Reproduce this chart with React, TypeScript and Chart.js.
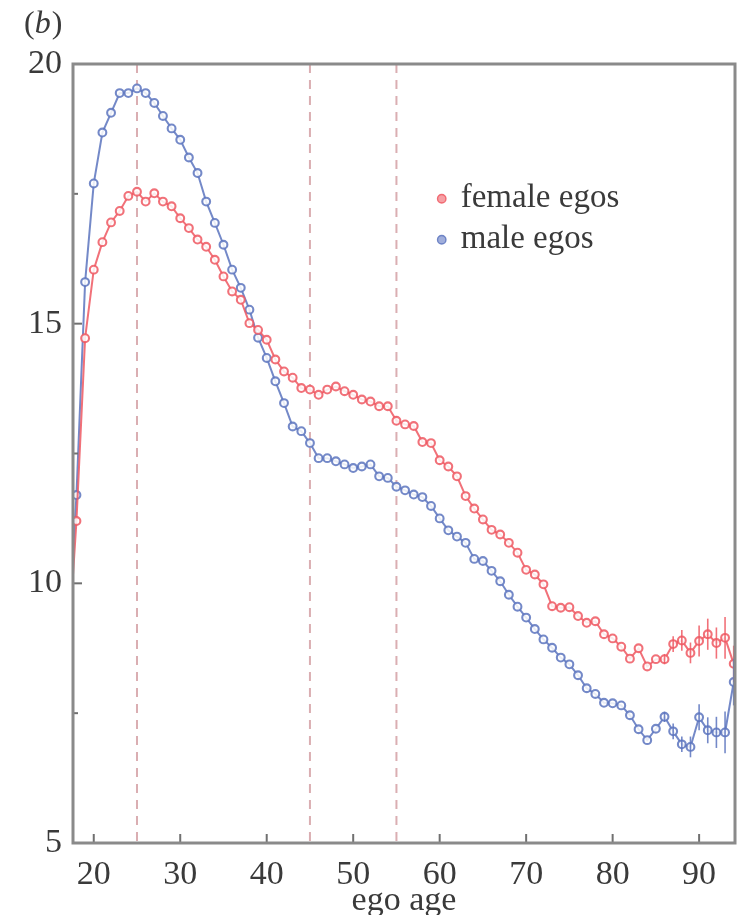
import React, { useEffect, useRef } from "react";
import { Chart, registerables } from "chart.js";

Chart.register(...registerables);

// ---------- data ----------
const AGES = [
  17, 18, 19, 20, 21, 22, 23, 24, 25, 26, 27, 28, 29, 30, 31, 32, 33, 34, 35, 36,
  37, 38, 39, 40, 41, 42, 43, 44, 45, 46, 47, 48, 49, 50, 51, 52, 53, 54, 55, 56,
  57, 58, 59, 60, 61, 62, 63, 64, 65, 66, 67, 68, 69, 70, 71, 72, 73, 74, 75, 76,
  77, 78, 79, 80, 81, 82, 83, 84, 85, 86, 87, 88, 89, 90, 91, 92, 93, 94,
];

const FEMALE = [
  8.6, 11.2, 14.72, 16.04, 16.57, 16.95, 17.17, 17.46, 17.54, 17.35, 17.51, 17.35, 17.26, 17.03, 16.84, 16.62, 16.48, 16.23, 15.91, 15.62,
  15.46, 15.01, 14.88, 14.69, 14.31, 14.08, 13.96, 13.76, 13.73, 13.63, 13.73, 13.79, 13.7, 13.63, 13.54, 13.5, 13.41, 13.41, 13.13, 13.06,
  13.03, 12.72, 12.7, 12.37, 12.25, 12.06, 11.68, 11.44, 11.23, 11.03, 10.94, 10.78, 10.59, 10.26, 10.17, 9.98, 9.56, 9.53, 9.54, 9.37,
  9.24, 9.27, 9.02, 8.94, 8.78, 8.55, 8.75, 8.4, 8.54, 8.54, 8.83, 8.9, 8.66, 8.89, 9.02, 8.85, 8.95, 8.45,
];

const MALE = [
  8.9, 11.7, 15.8, 17.7, 18.68, 19.06, 19.44, 19.44, 19.53, 19.44, 19.25, 19.0, 18.76, 18.54, 18.2, 17.9, 17.35, 16.94, 16.52, 16.04,
  15.69, 15.27, 14.73, 14.34, 13.89, 13.47, 13.02, 12.93, 12.7, 12.41, 12.41, 12.35, 12.29, 12.22, 12.25, 12.29, 12.06, 12.03, 11.86, 11.79,
  11.71, 11.66, 11.49, 11.25, 11.02, 10.9, 10.78, 10.47, 10.43, 10.24, 10.04, 9.78, 9.55, 9.34, 9.12, 8.92, 8.76, 8.57, 8.44, 8.23,
  7.98, 7.87, 7.7, 7.69, 7.65, 7.46, 7.19, 6.98, 7.2, 7.43, 7.15, 6.9, 6.85, 7.42, 7.17, 7.13, 7.13, 8.1,
];

// error bars (late ages only)
const ERR_AGES = [86, 87, 88, 89, 90, 91, 92, 93, 94];
const FEMALE_ERR = [0.1, 0.15, 0.2, 0.2, 0.3, 0.3, 0.3, 0.4, 0.35];
const MALE_ERR = [0.1, 0.15, 0.15, 0.2, 0.25, 0.25, 0.3, 0.4, 0.45];

const SERIES_LABELS = ["female egos", "male egos"];
const REF_AGES = [25, 45, 55];
const X_TICKS = [20, 30, 40, 50, 60, 70, 80, 90];
const Y_TICKS = [5, 10, 15, 20];
const Y_MINOR = [7.5, 12.5, 17.5];
const PANEL_LABEL = "b";
const X_TITLE = "ego age";

// ---------- style ----------
const FONT = "'Liberation Serif', 'DejaVu Serif', serif";
const RED = "rgba(238, 88, 98, 0.85)";
const BLUE = "rgba(92, 116, 190, 0.85)";
const RED_FILL = "rgba(245, 150, 155, 0.9)";
const BLUE_FILL = "rgba(150, 165, 215, 0.9)";
const FRAME = "#8a8a8a";
const TEXT = "#3a3a3a";

const toPoints = (vals: number[]) => AGES.map((a, i) => ({ x: a, y: vals[i] }));

const refLinesPlugin = {
  id: "refLines",
  beforeDatasetsDraw(chart: any) {
    const { ctx, chartArea, scales } = chart;
    ctx.save();
    ctx.strokeStyle = "rgba(212, 160, 165, 0.85)";
    ctx.lineWidth = 2;
    ctx.setLineDash([9, 7]);
    REF_AGES.forEach((a) => {
      const x = scales.x.getPixelForValue(a);
      ctx.beginPath();
      ctx.moveTo(x, chartArea.top);
      ctx.lineTo(x, chartArea.bottom);
      ctx.stroke();
    });
    ctx.restore();
  },
};

const errorBarPlugin = {
  id: "errorBars",
  afterDatasetsDraw(chart: any) {
    const { ctx, scales, chartArea } = chart;
    const sets = [
      { vals: FEMALE, errs: FEMALE_ERR, color: RED },
      { vals: MALE, errs: MALE_ERR, color: BLUE },
    ];
    ctx.save();
    ctx.beginPath();
    ctx.rect(chartArea.left, chartArea.top, chartArea.right - chartArea.left, chartArea.bottom - chartArea.top);
    ctx.clip();
    ctx.lineWidth = 1.6;
    sets.forEach((s) => {
      ctx.strokeStyle = s.color;
      ERR_AGES.forEach((a, i) => {
        const idx = AGES.indexOf(a);
        if (idx < 0) return;
        const v = s.vals[idx];
        const x = scales.x.getPixelForValue(a);
        const y1 = scales.y.getPixelForValue(v - s.errs[i]);
        const y2 = scales.y.getPixelForValue(v + s.errs[i]);
        ctx.beginPath();
        ctx.moveTo(x, y1);
        ctx.lineTo(x, y2);
        ctx.stroke();
      });
    });
    ctx.restore();
  },
};

const framePlugin = {
  id: "frame",
  afterDraw(chart: any) {
    const { ctx, chartArea, scales } = chart;
    const { left, right, top, bottom } = chartArea;
    ctx.save();
    // inner ticks
    ctx.strokeStyle = "#707070";
    ctx.lineWidth = 2;
    X_TICKS.forEach((t) => {
      const x = scales.x.getPixelForValue(t);
      ctx.beginPath();
      ctx.moveTo(x, bottom);
      ctx.lineTo(x, bottom - 9);
      ctx.stroke();
    });
    Y_TICKS.forEach((t) => {
      const y = scales.y.getPixelForValue(t);
      ctx.beginPath();
      ctx.moveTo(left, y);
      ctx.lineTo(left + 9, y);
      ctx.stroke();
    });
    Y_MINOR.forEach((t) => {
      const y = scales.y.getPixelForValue(t);
      ctx.beginPath();
      ctx.moveTo(left, y);
      ctx.lineTo(left + 5, y);
      ctx.stroke();
    });
    // frame
    ctx.strokeStyle = FRAME;
    ctx.lineWidth = 3;
    ctx.strokeRect(left, top, right - left, bottom - top);

    // panel label "(b)"
    ctx.fillStyle = TEXT;
    ctx.textBaseline = "alphabetic";
    ctx.textAlign = "left";
    let x = 24;
    const y = 33;
    ctx.font = `32px ${FONT}`;
    ctx.fillText("(", x, y);
    x += ctx.measureText("(").width;
    ctx.font = `italic 32px ${FONT}`;
    ctx.fillText(PANEL_LABEL, x, y);
    x += ctx.measureText(PANEL_LABEL).width + 1;
    ctx.font = `32px ${FONT}`;
    ctx.fillText(")", x, y);

    // legend
    const lx = left + (right - left) * 0.557;
    const ly0 = top + (bottom - top) * 0.173;
    const fills = [RED_FILL, BLUE_FILL];
    const strokes = [RED, BLUE];
    ctx.font = `33px ${FONT}`;
    ctx.textBaseline = "middle";
    SERIES_LABELS.forEach((lab, i) => {
      const yy = ly0 + i * 41;
      ctx.beginPath();
      ctx.arc(lx, yy, 4.2, 0, Math.PI * 2);
      ctx.fillStyle = fills[i];
      ctx.fill();
      ctx.lineWidth = 1.4;
      ctx.strokeStyle = strokes[i];
      ctx.stroke();
      ctx.fillStyle = TEXT;
      ctx.fillText(lab, lx + 19, yy);
    });
    ctx.restore();
  },
};

const makeDataset = (label: string, vals: number[], color: string) =>
  ({
    label,
    data: toPoints(vals),
    borderColor: color,
    backgroundColor: "#ffffff",
    borderWidth: 2,
    pointRadius: 3.9,
    pointBorderWidth: 2.1,
    pointBackgroundColor: "rgba(255,255,255,0.85)",
    pointBorderColor: color,
    tension: 0,
    clip: 1,
  } as any);

export default function App() {
  const ref = useRef<HTMLCanvasElement | null>(null);

  useEffect(() => {
    document.body.style.margin = "0";
    const canvas = ref.current;
    if (!canvas) return;
    const chart = new Chart(canvas, {
      type: "line",
      data: {
        datasets: [
          makeDataset(SERIES_LABELS[0], FEMALE, RED),
          makeDataset(SERIES_LABELS[1], MALE, BLUE),
        ],
      },
      options: {
        animation: false,
        responsive: false,
        devicePixelRatio: 1,
        layout: { padding: { top: 64, right: 9, left: 0, bottom: 0 } },
        plugins: {
          legend: { display: false },
          tooltip: { enabled: false },
          title: { display: false },
        },
        scales: {
          x: {
            type: "linear",
            min: 17.6,
            max: 94.15,
            grid: { display: false, drawTicks: false },
            border: { display: false },
            afterBuildTicks: (s: any) => {
              s.ticks = X_TICKS.map((v) => ({ value: v }));
            },
            afterFit: (s: any) => {
              s.height = 72;
            },
            ticks: {
              autoSkip: false,
              maxRotation: 0,
              padding: 12,
              color: TEXT,
              font: { family: FONT, size: 34 },
            },
            title: {
              display: true,
              text: X_TITLE,
              color: TEXT,
              padding: 0,
              font: { family: FONT, size: 34, lineHeight: 0.82 },
            },
          },
          y: {
            type: "linear",
            min: 5,
            max: 20,
            grid: { display: false, drawTicks: false },
            border: { display: false },
            afterBuildTicks: (s: any) => {
              s.ticks = Y_TICKS.map((v) => ({ value: v }));
            },
            afterFit: (s: any) => {
              s.width = 73;
            },
            ticks: {
              padding: 11,
              color: TEXT,
              font: { family: FONT, size: 34 },
            },
          },
        },
      },
      plugins: [refLinesPlugin, errorBarPlugin, framePlugin],
    });
    return () => chart.destroy();
  }, []);

  return (
    <div style={{ position: "absolute", left: 0, top: 0, width: 744, height: 915, background: "#fff" }}>
      <canvas ref={ref} width={744} height={915} style={{ display: "block", width: 744, height: 915 }} />
    </div>
  );
}
